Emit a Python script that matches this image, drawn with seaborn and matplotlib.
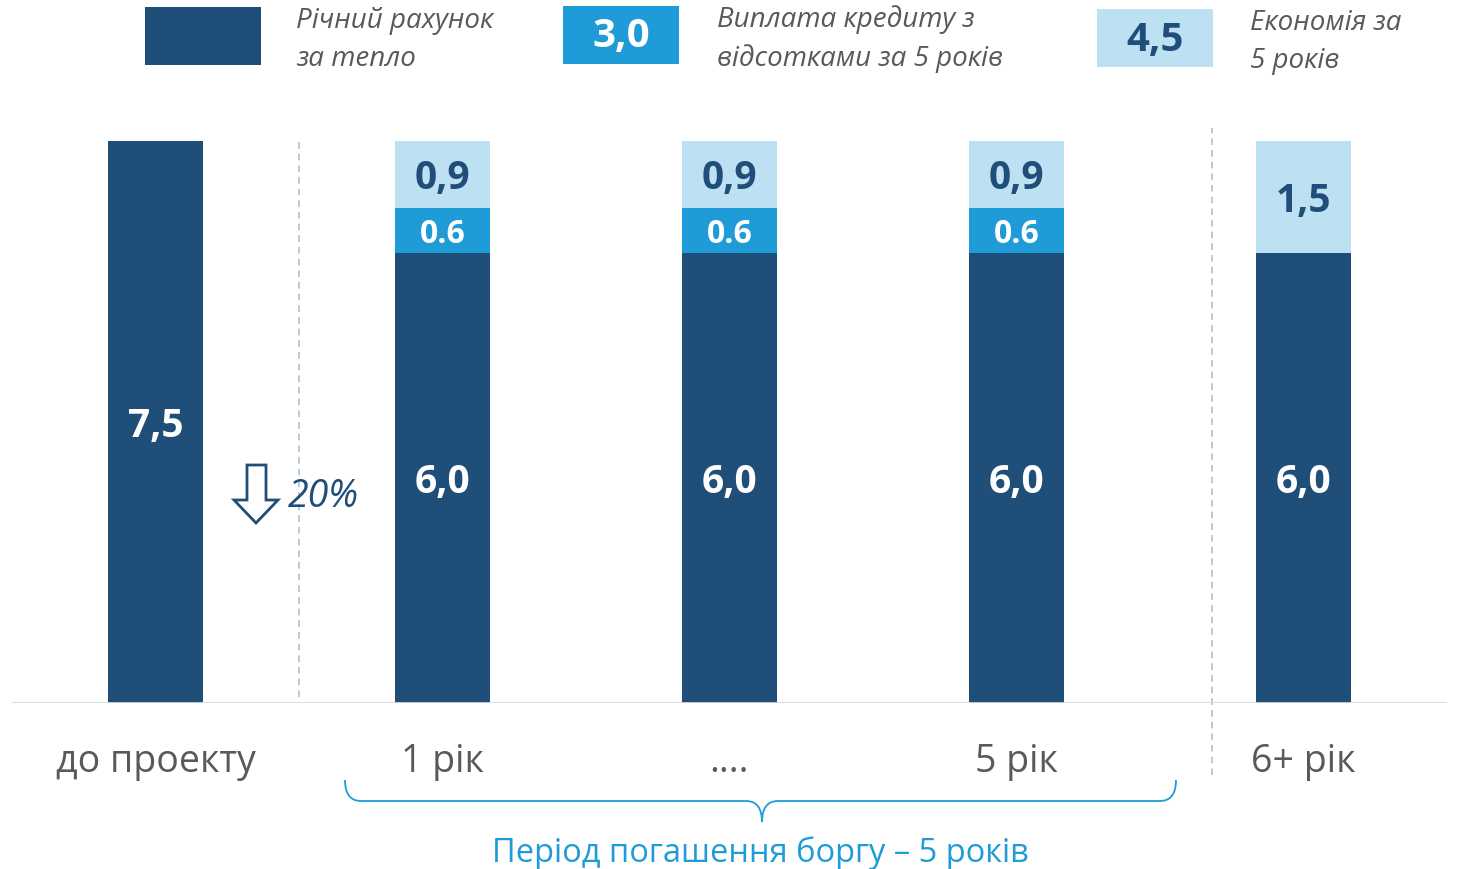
import matplotlib
matplotlib.use("Agg")
import matplotlib.pyplot as plt
import seaborn as sns
from matplotlib.patches import Rectangle, Polygon, PathPatch
from matplotlib.path import Path

# ---------------------------------------------------------------------------
# Data
# ---------------------------------------------------------------------------

categories = ["до проекту", "1 рік", "....", "5 рік", "6+ рік"]
heat_bill = [7.5, 6.0, 6.0, 6.0, 6.0]
loan_payment = [0.0, 0.6, 0.6, 0.6, 0.0]
savings = [0.0, 0.9, 0.9, 0.9, 1.5]

legend_names = ["Річний рахунок\nза тепло",
                "Виплата кредиту з\nвідсотками за 5 років",
                "Економія за\n5 років"]
legend_totals = [None, 3.0, 4.5]

reduction_label = "20%"
period_label = "Період погашення боргу – 5 років"

# ---------------------------------------------------------------------------
# Style
# ---------------------------------------------------------------------------

DARK = "#1F4E79"
MID = "#1F9BD7"
LIGHT = "#BDE0F3"
GRAY = "#595959"
W, H = 1460, 869

sns.set_style("white")
plt.rcParams["font.family"] = ["Open Sans", "DejaVu Sans"]


def fx(px, py):
    """Pixel (top-left origin) -> figure fraction."""
    return px / W, 1 - py / H


def comma(v):
    return f"{v:.1f}".replace(".", ",")


fig = plt.figure(figsize=(W / 100, H / 100), dpi=100)
ax = fig.add_axes([12 / W, 166 / H, 1435 / W, 703 / H])

bottom_loan = [b + l for b, l in zip(heat_bill, loan_payment)]
totals = [b + s for b, s in zip(bottom_loan, savings)]

# layered bars give the stacked look
for vals, col in [(totals, LIGHT), (bottom_loan, MID), (heat_bill, DARK)]:
    sns.barplot(x=categories, y=vals, color=col, saturation=1, width=0.33,
                errorbar=None, linewidth=0, ax=ax)

ax.set_xlim(-0.5, 4.5)
ax.set_ylim(0, 703 / 75)
sns.despine(ax=ax, left=True, bottom=True)
ax.set_yticks([])
ax.set_ylabel("")
ax.tick_params(axis="x", length=0, pad=29, labelsize=27, labelcolor=GRAY)
ax.axhline(0, color="#D9D9D9", lw=2, zorder=5)

# value labels
for i in range(len(categories)):
    ax.text(i, heat_bill[i] / 2, comma(heat_bill[i]), ha="center",
            va="center_baseline", color="white", fontsize=28,
            fontweight="bold")
    if loan_payment[i] > 0:
        ax.text(i, heat_bill[i] + loan_payment[i] / 2, f"{loan_payment[i]:.1f}",
                ha="center", va="center_baseline", color="white", fontsize=23,
                fontweight="bold")
    if savings[i] > 0:
        ax.text(i, bottom_loan[i] + savings[i] / 2, comma(savings[i]),
                ha="center", va="center_baseline", color=DARK, fontsize=28,
                fontweight="bold")

# dashed separators
ax.plot([0.5, 0.5], [0.08, 7.5], color="#A9C2D2", lw=1.2, ls=(0, (4, 3)))
ax.plot([3.68, 3.68], [-0.96, 7.67], color="#A9C2D2", lw=1.2, ls=(0, (4, 3)),
        clip_on=False)

# hollow down arrow + percentage
arrow_px = [(247, 465), (266, 465), (266, 500), (278, 500), (256, 523),
            (234, 500), (247, 500)]
fig.patches.append(Polygon([fx(*p) for p in arrow_px], closed=True, fill=False,
                           edgecolor=DARK, lw=2, transform=fig.transFigure))
fig.text(*fx(288, 497), reduction_label, ha="left", va="center", color=DARK,
         fontsize=27, style="italic")

# legend
legend_boxes = [(145, 7, DARK, None), (563, 6, MID, "white"),
                (1097, 9, LIGHT, DARK)]
legend_text_x = [296, 717, 1250]
for (bx, by, col, tcol), name, tot, tx in zip(legend_boxes, legend_names,
                                              legend_totals, legend_text_x):
    x0, y0 = fx(bx, by + 58)
    fig.patches.append(Rectangle((x0, y0), 116 / W, 58 / H, facecolor=col,
                                 edgecolor="none", transform=fig.transFigure))
    if tot is not None:
        fig.text(*fx(bx + 58, by + 31), comma(tot), ha="center", va="center",
                 color=tcol, fontsize=29, fontweight="bold")
    fig.text(*fx(tx, by + 33), name, ha="left", va="center", color=GRAY,
             fontsize=20, style="italic", linespacing=1.5)

# curly brace under repayment years
xl, xr, xm = 345, 1176, 762
yt, yl, yc = 780, 801, 822
r = 16
verts = [(xl, yt), (xl, yl), (xl + r, yl), (xm - r, yl), (xm, yl), (xm, yc),
         (xm, yl), (xm + r, yl), (xr - r, yl), (xr, yl), (xr, yt)]
codes = [Path.MOVETO, Path.CURVE3, Path.CURVE3, Path.LINETO, Path.CURVE3,
         Path.CURVE3, Path.CURVE3, Path.CURVE3, Path.LINETO, Path.CURVE3,
         Path.CURVE3]
brace = Path([fx(*v) for v in verts], codes)
fig.patches.append(PathPatch(brace, fill=False, edgecolor=MID, lw=1.3,
                             transform=fig.transFigure))
fig.text(*fx(760, 853), period_label, ha="center", va="center", color=MID,
         fontsize=23.5)

fig.savefig("out.png", dpi=100)
plt.close(fig)
